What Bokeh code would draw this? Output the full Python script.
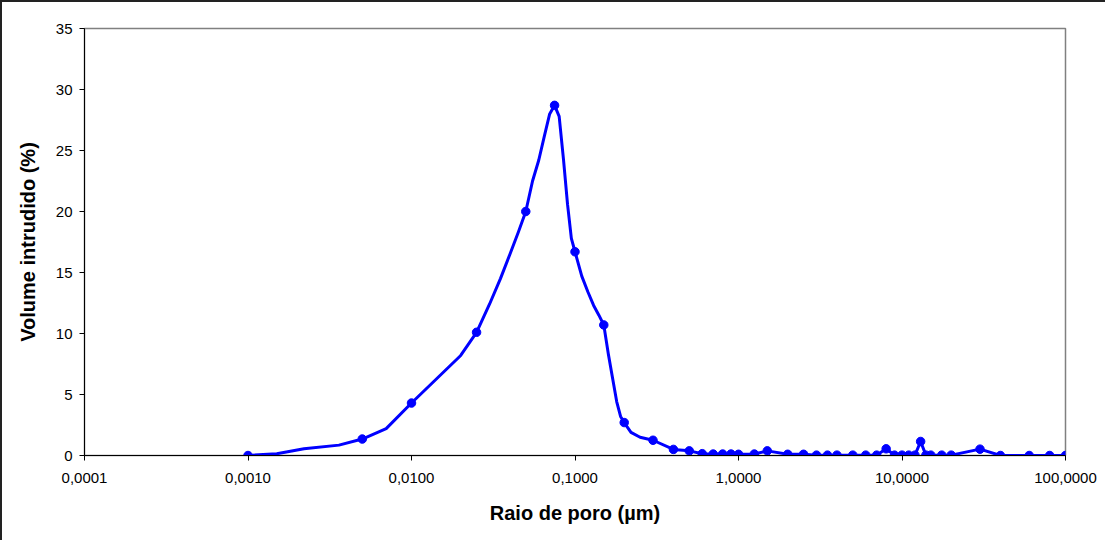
from bokeh.plotting import figure
from bokeh.layouts import column
from bokeh.models import FixedTicker, Range1d
from bokeh.embed import file_html
from bokeh.resources import INLINE

# Curve (pore radius in µm, intruded volume in %)
raio = [0.001, 0.0015, 0.0022, 0.0036, 0.005, 0.007, 0.01, 0.02, 0.025, 0.03,
        0.035, 0.04, 0.045, 0.05, 0.055, 0.06, 0.065, 0.07, 0.075, 0.08,
        0.085, 0.09, 0.095, 0.1, 0.11, 0.12, 0.13, 0.14, 0.15, 0.16,
        0.17, 0.18, 0.19, 0.2, 0.22, 0.25, 0.3, 0.4, 0.5, 0.6,
        0.7, 0.8, 0.9, 1.0, 1.25, 1.5, 2.0, 2.5, 3.0, 3.5,
        4.0, 5.0, 6.0, 7.0, 8.0, 9.0, 10.0, 11.0, 12.0, 13.0,
        14.0, 15.0, 17.5, 20.0, 30.0, 40.0, 60.0, 80.0, 100.0]
volume = [0.0, 0.15, 0.55, 0.85, 1.35, 2.2, 4.3, 8.2, 10.1, 12.4,
          14.5, 16.5, 18.3, 20.0, 22.5, 24.2, 26.2, 28.0, 28.7, 27.8,
          24.3, 20.6, 17.8, 16.7, 14.7, 13.4, 12.3, 11.5, 10.7, 8.3,
          6.3, 4.4, 3.2, 2.7, 1.9, 1.5, 1.25, 0.5, 0.38, 0.15,
          0.12, 0.12, 0.12, 0.1, 0.12, 0.38, 0.1, 0.1, 0.03, 0.03,
          0.03, 0.03, 0.03, 0.03, 0.55, 0.03, 0.03, 0.03, 0.03, 1.15,
          0.03, 0.03, 0.03, 0.03, 0.52, 0.0, 0.0, 0.0, 0.0]

# Radii that carry a marker
raio_marcadores = [0.001, 0.005, 0.01, 0.025, 0.05, 0.075, 0.1, 0.15, 0.2, 0.3,
                   0.4, 0.5, 0.6, 0.7, 0.8, 0.9, 1.0, 1.25, 1.5, 2.0,
                   2.5, 3.0, 3.5, 4.0, 5.0, 6.0, 7.0, 8.0, 9.0, 10.0,
                   11.0, 12.0, 13.0, 14.0, 15.0, 17.5, 20.0, 30.0, 40.0, 60.0,
                   80.0, 100.0]

x_ticks = [0.0001, 0.001, 0.01, 0.1, 1.0, 10.0, 100.0]
x_tick_labels = ["0,0001", "0,0010", "0,0100", "0,1000", "1,0000", "10,0000", "100,0000"]
y_ticks = [0, 5, 10, 15, 20, 25, 30, 35]

x_label = "Raio de poro (µm)"
y_label = "Volume intrudido (%)"

lookup = dict(zip(raio, volume))
vol_marcadores = [lookup[r] for r in raio_marcadores]

FONT = "Liberation Sans"
BLUE = "#0000FF"

p = figure(x_axis_type="log",
           x_range=Range1d(0.0001, 100), y_range=Range1d(0, 35),
           frame_width=981, frame_height=427,
           min_border_left=82, min_border_right=40,
           min_border_top=26, min_border_bottom=85,
           output_backend="svg", toolbar_location=None)

p.line(raio, volume, line_color=BLUE, line_width=3, line_join="round")
p.scatter(raio_marcadores, vol_marcadores, size=8.5, marker="circle",
          fill_color=BLUE, line_color=BLUE)

p.grid.visible = False
p.outline_line_color = "#808080"
p.outline_line_width = 1.5
p.background_fill_color = "white"
p.border_fill_color = "white"

p.xaxis.ticker = FixedTicker(ticks=x_ticks)
p.xaxis.major_label_overrides = {t: s for t, s in zip(x_ticks, x_tick_labels)}
p.yaxis.ticker = FixedTicker(ticks=y_ticks)

for ax in (p.xaxis[0], p.yaxis[0]):
    ax.axis_line_color = "black"
    ax.axis_line_width = 1
    ax.major_tick_line_color = "black"
    ax.major_tick_out = 5
    ax.major_tick_in = 0
    ax.minor_tick_line_color = None
    ax.major_label_text_font = FONT
    ax.major_label_text_font_size = "15px"
    ax.major_label_text_color = "black"
    ax.axis_label_text_font = FONT
    ax.axis_label_text_font_style = "bold"
    ax.axis_label_text_font_size = "20px"
    ax.axis_label_text_color = "black"

p.xaxis.axis_label = x_label
p.yaxis.axis_label = y_label
p.xaxis.major_label_standoff = 12
p.xaxis.axis_label_standoff = 16
p.yaxis.major_label_standoff = 7
p.yaxis.axis_label_standoff = 14

layout = column(p, styles={"border-left": "2px solid #222222",
                           "border-top": "2px solid #222222"})

open("out.html", "w").write(file_html(layout, INLINE))
